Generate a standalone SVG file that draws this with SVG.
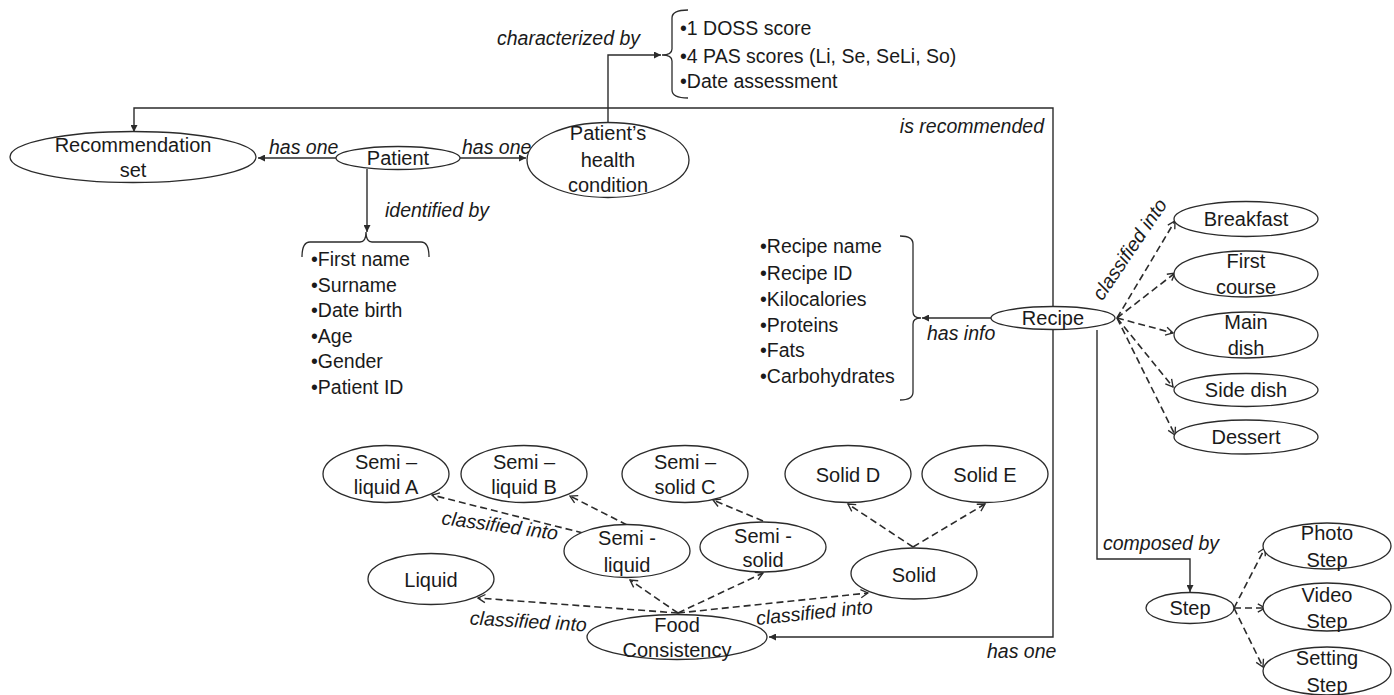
<svg xmlns="http://www.w3.org/2000/svg" width="1394" height="695" viewBox="0 0 1394 695">
  <style>
    text { font-family: "Liberation Sans", Arial, sans-serif; font-size: 19.5px; fill: #1a1a1a; }
    .node ellipse { fill: #ffffff; stroke: #2b2b2b; stroke-width: 1.3; }
    .node text { text-anchor: middle; font-size: 20px; }
    .lbl { font-style: italic; }
    .list { font-size: 19.5px; }
    .link { fill: none; stroke: #2b2b2b; stroke-width: 1.4; }
    .solid { marker-end: url(#head); }
    .dash { stroke-width: 1.6; stroke-dasharray: 7 4; marker-end: url(#open); }
    .brace { fill: none; stroke: #2b2b2b; stroke-width: 1.3; }
  </style>
  <defs>
    <marker id="head" viewBox="0 0 10 10" refX="10" refY="5" markerWidth="8" markerHeight="7" markerUnits="userSpaceOnUse" orient="auto">
      <path d="M0,0 L10,5 L0,10 Z" fill="#2b2b2b"/>
    </marker>
    <marker id="open" viewBox="0 0 10 10" refX="9" refY="5" markerWidth="9" markerHeight="11" markerUnits="userSpaceOnUse" orient="auto">
      <path d="M1,0.5 L9,5 L1,9.5" fill="none" stroke="#2b2b2b" stroke-width="1.5"/>
    </marker>
  </defs>

  <rect width="1394" height="695" fill="#ffffff"/>

  <!-- connectors -->
  <g id="connectors">
    <path class="link solid" d="M337,158 H258"/>
    <path class="link solid" d="M460,158 H526"/>
    <path class="link solid" d="M608,122 V55 H661"/>
    <path class="link solid" d="M367,169 V232"/>
    <path class="link solid" d="M1053,307 V108 H134 V132"/>
    <path class="link solid" d="M1053,330 V637 H769"/>
    <path class="link solid" d="M991,318 H922"/>
    <path class="link solid" d="M1097,330 V559 H1190 V592"/>

    <!-- meal categories -->
    <path class="link dash" d="M1117,318 L1175,221"/>
    <path class="link dash" d="M1117,318 L1175,273"/>
    <path class="link dash" d="M1117,318 L1173,333"/>
    <path class="link dash" d="M1117,318 L1173,387"/>
    <path class="link dash" d="M1117,318 L1175,435"/>

    <!-- step types -->
    <path class="link dash" d="M1234,608 L1265,548"/>
    <path class="link dash" d="M1234,608 L1265,608"/>
    <path class="link dash" d="M1234,608 L1263,667"/>

    <!-- consistency levels -->
    <path class="link dash" d="M678,613 L478,598"/>
    <path class="link dash" d="M678,613 L630,580"/>
    <path class="link dash" d="M678,613 L763,573"/>
    <path class="link dash" d="M678,613 L868,593"/>
    <path class="link dash" d="M583,533 L432,495"/>
    <path class="link dash" d="M627,525 L570,496"/>
    <path class="link dash" d="M763,521 L713,500"/>
    <path class="link dash" d="M913,547 L848,504"/>
    <path class="link dash" d="M913,547 L985,504"/>
  </g>

  <!-- connector labels -->
  <g id="labels">
    <text class="lbl" x="497" y="45">characterized by</text>
    <text class="lbl" x="1044" y="133" text-anchor="end">is recommended</text>
    <text class="lbl" x="269" y="154">has one</text>
    <text class="lbl" x="462" y="154">has one</text>
    <text class="lbl" x="385" y="217">identified by</text>
    <text class="lbl" x="927" y="340">has info</text>
    <text class="lbl" transform="translate(1135,253) rotate(-56)" text-anchor="middle">classified into</text>
    <text class="lbl" x="1103" y="550">composed by</text>
    <text class="lbl" x="987" y="658">has one</text>
    <text class="lbl" transform="translate(499,532) rotate(7.7)" text-anchor="middle">classified into</text>
    <text class="lbl" transform="translate(528,628) rotate(3.4)" text-anchor="middle">classified into</text>
    <text class="lbl" transform="translate(815,619) rotate(-5.8)" text-anchor="middle">classified into</text>
  </g>

  <!-- attribute lists -->
  <g id="health-attributes">
    <path class="brace" d="M688,10 Q672,10 672,18 V49 Q672,55 662,55 Q672,55 672,61 V90 Q672,98 688,98"/>
    <text class="list" x="680" y="35">•1 DOSS score</text>
    <text class="list" x="680" y="63">•4 PAS scores (Li, Se, SeLi, So)</text>
    <text class="list" x="680" y="88">•Date assessment</text>
  </g>

  <g id="patient-attributes">
    <path class="brace" d="M302,257 Q302,242 310,242 H360 Q366,242 366,232 Q366,242 372,242 H421 Q429,242 429,257"/>
    <text class="list" x="311" y="266">•First name</text>
    <text class="list" x="311" y="292">•Surname</text>
    <text class="list" x="311" y="317">•Date birth</text>
    <text class="list" x="311" y="343">•Age</text>
    <text class="list" x="311" y="368">•Gender</text>
    <text class="list" x="311" y="394">•Patient ID</text>
  </g>

  <g id="recipe-attributes">
    <path class="brace" d="M900,236 Q913,236 913,244 V312 Q913,318 921,318 Q913,318 913,324 V392 Q913,400 900,400"/>
    <text class="list" x="760" y="253">•Recipe name</text>
    <text class="list" x="760" y="280">•Recipe ID</text>
    <text class="list" x="760" y="306">•Kilocalories</text>
    <text class="list" x="760" y="332">•Proteins</text>
    <text class="list" x="760" y="357">•Fats</text>
    <text class="list" x="760" y="383">•Carbohydrates</text>
  </g>

  <!-- nodes -->
  <g id="recommendation-set" class="node">
    <ellipse cx="133" cy="157" rx="123" ry="25.5"/>
    <text x="133" y="152">Recommendation</text>
    <text x="133" y="177">set</text>
  </g>
  <g id="patient" class="node">
    <ellipse cx="398" cy="158" rx="62" ry="11.5"/>
    <text x="398" y="165">Patient</text>
  </g>
  <g id="health-condition" class="node">
    <ellipse cx="608" cy="160" rx="81" ry="37.5"/>
    <text x="608" y="140">Patient’s</text>
    <text x="608" y="167">health</text>
    <text x="608" y="192">condition</text>
  </g>
  <g id="recipe" class="node">
    <ellipse cx="1053" cy="318" rx="62" ry="11.5"/>
    <text x="1053" y="325">Recipe</text>
  </g>
  <g id="breakfast" class="node">
    <ellipse cx="1246" cy="219" rx="72" ry="17.5"/>
    <text x="1246" y="226">Breakfast</text>
  </g>
  <g id="first-course" class="node">
    <ellipse cx="1246" cy="274" rx="72" ry="23"/>
    <text x="1246" y="268">First</text>
    <text x="1246" y="294">course</text>
  </g>
  <g id="main-dish" class="node">
    <ellipse cx="1246" cy="335" rx="72" ry="23"/>
    <text x="1246" y="329">Main</text>
    <text x="1246" y="355">dish</text>
  </g>
  <g id="side-dish" class="node">
    <ellipse cx="1246" cy="390" rx="72" ry="16.5"/>
    <text x="1246" y="397">Side dish</text>
  </g>
  <g id="dessert" class="node">
    <ellipse cx="1246" cy="437" rx="72" ry="17"/>
    <text x="1246" y="444">Dessert</text>
  </g>
  <g id="step" class="node">
    <ellipse cx="1190" cy="608" rx="44" ry="15.5"/>
    <text x="1190" y="615">Step</text>
  </g>
  <g id="photo-step" class="node">
    <ellipse cx="1327" cy="546" rx="64" ry="23"/>
    <text x="1327" y="540">Photo</text>
    <text x="1327" y="567">Step</text>
  </g>
  <g id="video-step" class="node">
    <ellipse cx="1327" cy="607" rx="64" ry="24"/>
    <text x="1327" y="602">Video</text>
    <text x="1327" y="628">Step</text>
  </g>
  <g id="setting-step" class="node">
    <ellipse cx="1327" cy="671" rx="64" ry="24"/>
    <text x="1327" y="665">Setting</text>
    <text x="1327" y="692">Step</text>
  </g>
  <g id="semi-liquid-a" class="node">
    <ellipse cx="386" cy="474" rx="63" ry="28.5"/>
    <text x="386" y="469">Semi –</text>
    <text x="386" y="494">liquid A</text>
  </g>
  <g id="semi-liquid-b" class="node">
    <ellipse cx="524" cy="474" rx="63" ry="28.5"/>
    <text x="524" y="469">Semi –</text>
    <text x="524" y="494">liquid B</text>
  </g>
  <g id="semi-solid-c" class="node">
    <ellipse cx="685" cy="474" rx="63" ry="28.5"/>
    <text x="685" y="469">Semi –</text>
    <text x="685" y="494">solid C</text>
  </g>
  <g id="solid-d" class="node">
    <ellipse cx="848" cy="474" rx="63" ry="28.5"/>
    <text x="848" y="482">Solid D</text>
  </g>
  <g id="solid-e" class="node">
    <ellipse cx="985" cy="474" rx="63" ry="28.5"/>
    <text x="985" y="482">Solid E</text>
  </g>
  <g id="semi-liquid" class="node">
    <ellipse cx="627" cy="551" rx="63" ry="26.5"/>
    <text x="627" y="545">Semi -</text>
    <text x="627" y="572">liquid</text>
  </g>
  <g id="semi-solid" class="node">
    <ellipse cx="763" cy="547" rx="63" ry="25"/>
    <text x="763" y="543">Semi -</text>
    <text x="763" y="567">solid</text>
  </g>
  <g id="solid" class="node">
    <ellipse cx="914" cy="573.5" rx="63" ry="25.5"/>
    <text x="914" y="582">Solid</text>
  </g>
  <g id="liquid" class="node">
    <ellipse cx="431" cy="579" rx="63" ry="25.5"/>
    <text x="431" y="587">Liquid</text>
  </g>
  <g id="food-consistency" class="node">
    <ellipse cx="677" cy="637" rx="90" ry="22.5"/>
    <text x="677" y="632">Food</text>
    <text x="677" y="657">Consistency</text>
  </g>
</svg>
